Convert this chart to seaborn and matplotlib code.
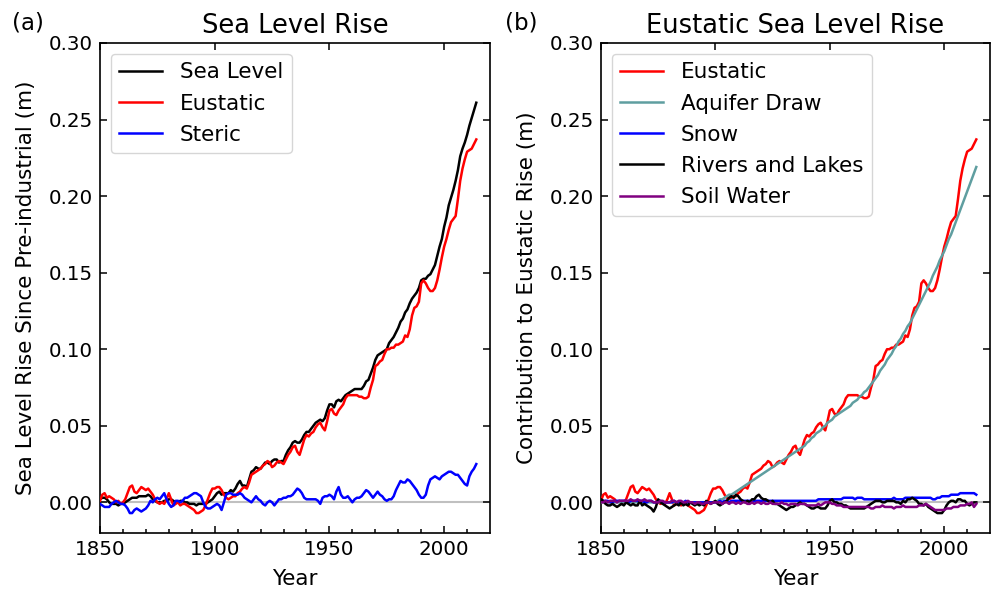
import numpy as np
import pandas as pd
import matplotlib
matplotlib.use("Agg")
import matplotlib.pyplot as plt
import seaborn as sns

years = list(range(1850, 2015))

sea_level = [
    0.002, 0.003, 0.003, 0.002, 0.000, -0.001, -0.001, -0.001, -0.002, -0.001,
    -0.001, 0.000, 0.001, 0.002, 0.003, 0.003, 0.003, 0.004, 0.004, 0.004,
    0.004, 0.005, 0.004, 0.002, 0.001, 0.000, 0.000, 0.000, 0.001, 0.001,
    0.002, 0.002, 0.001, 0.000, 0.000, 0.001, 0.001, 0.000, 0.000, -0.001,
    -0.001, -0.001, -0.002, -0.001, -0.001, -0.001, -0.001, 0.000, 0.001, 0.002,
    0.004, 0.006, 0.007, 0.005, 0.006, 0.006, 0.006, 0.008, 0.007, 0.009,
    0.012, 0.014, 0.011, 0.011, 0.010, 0.015, 0.020, 0.021, 0.023, 0.022,
    0.022, 0.024, 0.026, 0.026, 0.025, 0.027, 0.028, 0.028, 0.026, 0.027,
    0.027, 0.031, 0.034, 0.036, 0.039, 0.040, 0.039, 0.039, 0.041, 0.044,
    0.046, 0.046, 0.048, 0.050, 0.052, 0.053, 0.054, 0.053, 0.055, 0.060,
    0.064, 0.064, 0.062, 0.066, 0.067, 0.066, 0.068, 0.070, 0.071, 0.072,
    0.073, 0.074, 0.074, 0.074, 0.074, 0.076, 0.079, 0.080, 0.084, 0.088,
    0.093, 0.096, 0.097, 0.098, 0.099, 0.100, 0.104, 0.106, 0.108, 0.111,
    0.114, 0.118, 0.120, 0.124, 0.126, 0.130, 0.133, 0.135, 0.137, 0.140,
    0.145, 0.146, 0.146, 0.148, 0.149, 0.152, 0.155, 0.161, 0.167, 0.172,
    0.180, 0.186, 0.194, 0.199, 0.204, 0.210, 0.217, 0.226, 0.231, 0.235,
    0.240, 0.246, 0.251, 0.256, 0.261,
]

eustatic = [
    0.001, 0.005, 0.006, 0.003, 0.004, 0.003, 0.002, 0.000, 0.001, -0.001,
    0.000, 0.002, 0.006, 0.010, 0.011, 0.007, 0.006, 0.008, 0.010, 0.009,
    0.008, 0.009, 0.007, 0.005, 0.002, 0.000, -0.001, 0.000, -0.001, 0.002,
    0.006, 0.002, -0.002, -0.001, 0.000, -0.002, -0.001, -0.001, -0.002, -0.003,
    -0.004, -0.005, -0.007, -0.007, -0.006, -0.005, -0.002, 0.002, 0.006, 0.009,
    0.009, 0.010, 0.010, 0.008, 0.005, 0.003, 0.002, 0.003, 0.004, 0.004,
    0.006, 0.007, 0.009, 0.010, 0.009, 0.013, 0.018, 0.019, 0.020, 0.021,
    0.022, 0.024, 0.025, 0.027, 0.026, 0.023, 0.024, 0.026, 0.027, 0.026,
    0.025, 0.028, 0.031, 0.033, 0.036, 0.037, 0.033, 0.031, 0.036, 0.041,
    0.044, 0.043, 0.045, 0.046, 0.049, 0.051, 0.052, 0.049, 0.047, 0.053,
    0.060, 0.061, 0.058, 0.057, 0.060, 0.062, 0.064, 0.068, 0.070, 0.070,
    0.070, 0.070, 0.070, 0.069, 0.069, 0.068, 0.068, 0.069, 0.075, 0.080,
    0.089, 0.090, 0.092, 0.093, 0.097, 0.100, 0.100, 0.101, 0.101, 0.103,
    0.103, 0.104, 0.105, 0.109, 0.108, 0.113, 0.122, 0.127, 0.128, 0.131,
    0.143, 0.145, 0.143, 0.140, 0.138, 0.138, 0.140, 0.145, 0.152, 0.160,
    0.167, 0.172, 0.178, 0.183, 0.185, 0.187, 0.198, 0.210, 0.218, 0.224,
    0.229, 0.230, 0.231, 0.234, 0.237,
]

steric = [
    -0.001, -0.002, -0.003, -0.003, -0.003, -0.001, 0.000, 0.001, 0.000, -0.001,
    -0.001, -0.002, -0.004, -0.007, -0.007, -0.005, -0.004, -0.005, -0.006, -0.005,
    -0.004, -0.002, 0.001, 0.000, 0.002, 0.003, 0.002, 0.004, 0.006, 0.002,
    -0.001, -0.003, -0.002, 0.001, 0.001, 0.000, 0.001, 0.003, 0.003, 0.004,
    0.005, 0.006, 0.006, 0.005, 0.004, 0.000, -0.003, -0.004, -0.004, -0.003,
    -0.002, -0.001, -0.002, -0.005, 0.000, 0.005, 0.006, 0.006, 0.005, 0.005,
    0.005, 0.006, 0.005, 0.003, 0.002, 0.001, 0.000, 0.002, 0.004, 0.002,
    0.001, -0.001, -0.002, 0.000, 0.001, 0.000, -0.002, 0.000, 0.002, 0.002,
    0.003, 0.003, 0.004, 0.004, 0.005, 0.007, 0.009, 0.008, 0.006, 0.003,
    0.002, 0.002, 0.002, 0.002, 0.002, 0.001, -0.001, 0.003, 0.004, 0.004,
    0.005, 0.004, 0.002, 0.007, 0.010, 0.005, 0.003, 0.003, 0.004, 0.002,
    0.000, 0.002, 0.003, 0.003, 0.004, 0.006, 0.008, 0.007, 0.005, 0.003,
    0.005, 0.007, 0.005, 0.004, 0.002, 0.001, 0.002, 0.002, 0.004, 0.008,
    0.011, 0.014, 0.013, 0.013, 0.015, 0.014, 0.012, 0.010, 0.008, 0.005,
    0.003, 0.003, 0.005, 0.011, 0.015, 0.016, 0.017, 0.016, 0.015, 0.017,
    0.018, 0.019, 0.020, 0.020, 0.019, 0.018, 0.018, 0.016, 0.014, 0.012,
    0.011, 0.017, 0.020, 0.022, 0.025,
]

aquifer_draw = [
    0.000, 0.000, 0.000, 0.000, 0.000, 0.000, 0.000, 0.000, 0.000, 0.000,
    0.000, 0.000, 0.000, 0.000, 0.000, 0.000, 0.000, 0.000, 0.000, 0.000,
    0.000, 0.000, 0.000, 0.000, 0.000, 0.000, 0.000, 0.000, 0.000, 0.000,
    0.000, 0.000, 0.000, 0.000, 0.000, 0.000, 0.000, 0.000, 0.000, 0.000,
    0.000, 0.000, 0.000, 0.000, 0.000, 0.000, 0.000, 0.000, 0.000, 0.000,
    0.000, 0.001, 0.002, 0.002, 0.003, 0.004, 0.005, 0.005, 0.006, 0.007,
    0.008, 0.009, 0.010, 0.011, 0.012, 0.013, 0.014, 0.015, 0.016, 0.017,
    0.018, 0.019, 0.020, 0.021, 0.022, 0.023, 0.024, 0.025, 0.026, 0.027,
    0.028, 0.029, 0.030, 0.031, 0.032, 0.033, 0.034, 0.035, 0.036, 0.037,
    0.039, 0.040, 0.042, 0.043, 0.045, 0.046, 0.047, 0.049, 0.050, 0.052,
    0.053, 0.054, 0.056, 0.057, 0.058, 0.059, 0.060, 0.061, 0.062, 0.063,
    0.065, 0.066, 0.067, 0.069, 0.070, 0.072, 0.073, 0.075, 0.077, 0.079,
    0.081, 0.083, 0.086, 0.088, 0.090, 0.093, 0.095, 0.097, 0.100, 0.102,
    0.105, 0.107, 0.110, 0.112, 0.115, 0.117, 0.120, 0.123, 0.126, 0.129,
    0.132, 0.135, 0.138, 0.141, 0.144, 0.148, 0.151, 0.154, 0.158, 0.161,
    0.164, 0.168, 0.172, 0.175, 0.179, 0.183, 0.187, 0.191, 0.195, 0.199,
    0.203, 0.207, 0.211, 0.215, 0.219,
]

snow = [
    0.001, 0.001, 0.001, 0.001, 0.000, 0.000, 0.001, 0.001, 0.001, 0.001,
    0.001, 0.001, 0.000, 0.001, 0.001, 0.001, 0.001, 0.001, 0.001, 0.000,
    0.000, 0.001, 0.001, 0.000, 0.000, 0.001, 0.001, 0.000, 0.000, 0.000,
    0.000, 0.000, 0.001, 0.000, 0.000, 0.000, 0.000, 0.001, 0.000, 0.000,
    0.000, 0.000, 0.000, 0.000, 0.000, 0.000, 0.000, 0.000, 0.000, 0.000,
    0.000, 0.000, 0.001, 0.000, 0.001, 0.001, 0.000, 0.001, 0.001, 0.001,
    0.001, 0.001, 0.001, 0.001, 0.001, 0.001, 0.000, 0.001, 0.001, 0.001,
    0.001, 0.001, 0.001, 0.001, 0.001, 0.001, 0.001, 0.001, 0.001, 0.001,
    0.001, 0.001, 0.001, 0.001, 0.001, 0.001, 0.001, 0.001, 0.001, 0.001,
    0.001, 0.001, 0.001, 0.001, 0.001, 0.002, 0.002, 0.002, 0.002, 0.002,
    0.002, 0.002, 0.002, 0.002, 0.002, 0.002, 0.003, 0.003, 0.003, 0.003,
    0.003, 0.002, 0.003, 0.003, 0.003, 0.002, 0.002, 0.002, 0.002, 0.002,
    0.002, 0.002, 0.002, 0.002, 0.002, 0.002, 0.002, 0.002, 0.003, 0.002,
    0.002, 0.002, 0.002, 0.003, 0.003, 0.003, 0.003, 0.003, 0.003, 0.003,
    0.003, 0.003, 0.003, 0.003, 0.003, 0.002, 0.002, 0.003, 0.003, 0.004,
    0.004, 0.004, 0.004, 0.005, 0.005, 0.005, 0.005, 0.006, 0.006, 0.006,
    0.006, 0.006, 0.006, 0.006, 0.005,
]

rivers_lakes = [
    0.002, 0.001, -0.001, -0.002, -0.002, -0.001, -0.002, -0.003, -0.002, -0.001,
    -0.002, 0.000, -0.001, -0.002, -0.001, -0.002, -0.002, 0.001, -0.002, -0.001,
    -0.002, -0.003, -0.004, -0.006, -0.003, 0.002, 0.000, -0.001, -0.002, -0.003,
    -0.004, -0.003, -0.002, -0.001, -0.002, 0.000, -0.002, -0.001, -0.002, 0.000,
    -0.001, -0.002, -0.001, -0.002, -0.001, -0.002, 0.001, 0.000, -0.001, 0.000,
    0.001, -0.001, -0.002, -0.001, 0.000, 0.001, 0.003, 0.004, 0.003, 0.005,
    0.004, 0.002, 0.001, 0.000, 0.001, 0.000, 0.002, 0.002, 0.004, 0.005,
    0.003, 0.002, 0.002, 0.001, 0.000, 0.001, -0.001, -0.001, -0.002, -0.003,
    -0.004, -0.005, -0.004, -0.003, -0.003, -0.002, -0.001, 0.000, -0.001, -0.001,
    -0.002, -0.003, -0.004, -0.004, -0.003, -0.003, -0.004, -0.004, -0.004, -0.002,
    0.001, 0.002, 0.000, 0.000, -0.001, -0.001, -0.002, -0.002, -0.003, -0.004,
    -0.004, -0.004, -0.004, -0.004, -0.004, -0.004, -0.003, -0.002, -0.001, 0.000,
    0.001, 0.001, 0.001, 0.000, 0.000, 0.001, 0.001, 0.001, 0.001, 0.000,
    0.000, -0.001, 0.001, 0.000, 0.002, 0.002, 0.003, 0.002, 0.001, -0.001,
    -0.001, -0.002, -0.001, -0.003, -0.004, -0.005, -0.006, -0.007, -0.007, -0.007,
    -0.005, -0.002, 0.000, 0.001, 0.001, 0.000, 0.002, 0.002, 0.001, 0.001,
    -0.001, -0.002, -0.001, 0.000, 0.000,
]

soil_water = [
    0.000, 0.000, 0.001, 0.000, 0.001, 0.001, 0.001, 0.000, 0.001, 0.001,
    0.001, 0.001, 0.001, 0.002, 0.001, 0.001, 0.002, 0.001, 0.001, 0.002,
    0.001, 0.001, 0.001, 0.000, 0.000, 0.000, 0.001, 0.001, 0.000, 0.000,
    0.000, 0.001, 0.001, 0.000, 0.001, 0.001, 0.000, 0.000, 0.001, 0.000,
    0.000, -0.001, 0.000, 0.000, -0.001, -0.001, 0.000, 0.000, -0.001, 0.000,
    0.000, 0.000, 0.000, -0.001, 0.000, 0.000, -0.001, 0.000, 0.000, -0.001,
    0.000, -0.001, 0.000, 0.000, -0.001, -0.001, 0.000, -0.001, 0.000, 0.000,
    -0.001, 0.000, -0.001, -0.001, 0.000, -0.001, -0.001, -0.001, -0.001, 0.000,
    -0.001, -0.001, -0.002, -0.001, -0.001, -0.001, -0.002, -0.001, -0.001, -0.001,
    -0.002, -0.002, -0.002, -0.002, -0.002, -0.001, -0.002, -0.001, 0.000, 0.000,
    0.000, -0.001, -0.001, -0.002, -0.002, -0.002, -0.003, -0.003, -0.003, -0.003,
    -0.003, -0.003, -0.003, -0.003, -0.003, -0.003, -0.003, -0.003, -0.004, -0.004,
    -0.003, -0.003, -0.003, -0.002, -0.003, -0.003, -0.003, -0.003, -0.004, -0.003,
    -0.003, -0.003, -0.002, -0.003, -0.003, -0.003, -0.003, -0.003, -0.003, -0.002,
    -0.002, -0.002, -0.001, -0.002, -0.003, -0.004, -0.005, -0.005, -0.005, -0.005,
    -0.005, -0.004, -0.004, -0.004, -0.003, -0.003, -0.003, -0.002, -0.002, -0.002,
    -0.001, -0.001, 0.000, -0.003, -0.001,
]

panel_titles = ["Sea Level Rise", "Eustatic Sea Level Rise"]
panel_tags = ["(a)", "(b)"]
y_labels = ["Sea Level Rise Since Pre-industrial (m)", "Contribution to Eustatic Rise (m)"]
y_ticks = [0.00, 0.05, 0.10, 0.15, 0.20, 0.25, 0.30]
x_ticks = [1850, 1900, 1950, 2000]

df = pd.DataFrame({
    "Year": years,
    "Sea Level": sea_level,
    "Eustatic": eustatic,
    "Steric": steric,
    "Aquifer Draw": aquifer_draw,
    "Snow": snow,
    "Rivers and Lakes": rivers_lakes,
    "Soil Water": soil_water,
})

panel_series = [
    [("Sea Level", "black"), ("Eustatic", "red"), ("Steric", "blue")],
    [("Eustatic", "red"), ("Aquifer Draw", "cadetblue"), ("Snow", "blue"),
     ("Rivers and Lakes", "black"), ("Soil Water", "purple")],
]

plt.rcParams["font.family"] = ["DejaVu Sans"]
fig = plt.figure(figsize=(9.94, 5.92), dpi=100)
axes = [fig.add_axes([0.1006, 0.0997, 0.3924, 0.8277]),
        fig.add_axes([0.6046, 0.0997, 0.3914, 0.8277])]

for i, ax in enumerate(axes):
    ax.axhline(0, color="#c0c0c0", lw=1.5, zorder=1)
    for name, col in panel_series[i]:
        sns.lineplot(data=df, x="Year", y=name, color=col, lw=1.8, label=name, ax=ax, zorder=3)
    ax.set_xlim(1850, 2020)
    ax.set_ylim(-0.02, 0.30)
    ax.set_xticks(x_ticks)
    ax.set_xticks(list(range(1860, 2020, 10)), minor=True)
    ax.set_yticks(y_ticks)
    ax.set_yticklabels([f"{v:.2f}" for v in y_ticks])
    ax.tick_params(axis="both", which="major", direction="in", length=5, width=1.1,
                   labelsize=14.3, top=True, right=True, pad=5)
    ax.tick_params(axis="x", which="minor", direction="in", length=3, width=1.1,
                   top=False, bottom=True)
    for sp in ax.spines.values():
        sp.set_linewidth(1.2)
    ax.set_xlabel("Year", fontsize=15.5, labelpad=7)
    ax.set_ylabel(y_labels[i], fontsize=15.5, labelpad=9.5)
    ax.set_title(panel_titles[i], fontsize=18.5, pad=7)
    leg = ax.legend(loc="upper left", fontsize=15.5, handlelength=2.0,
                    labelspacing=0.52, borderpad=0.4)
    for h in leg.get_lines():
        h.set_linewidth(1.8)

fig.text(12 / 994, 1 - 29 / 592, panel_tags[0], fontsize=16.5, ha="left", va="baseline")
fig.text(505 / 994, 1 - 29 / 592, panel_tags[1], fontsize=16.5, ha="left", va="baseline")

fig.savefig("out.png", dpi=100)
